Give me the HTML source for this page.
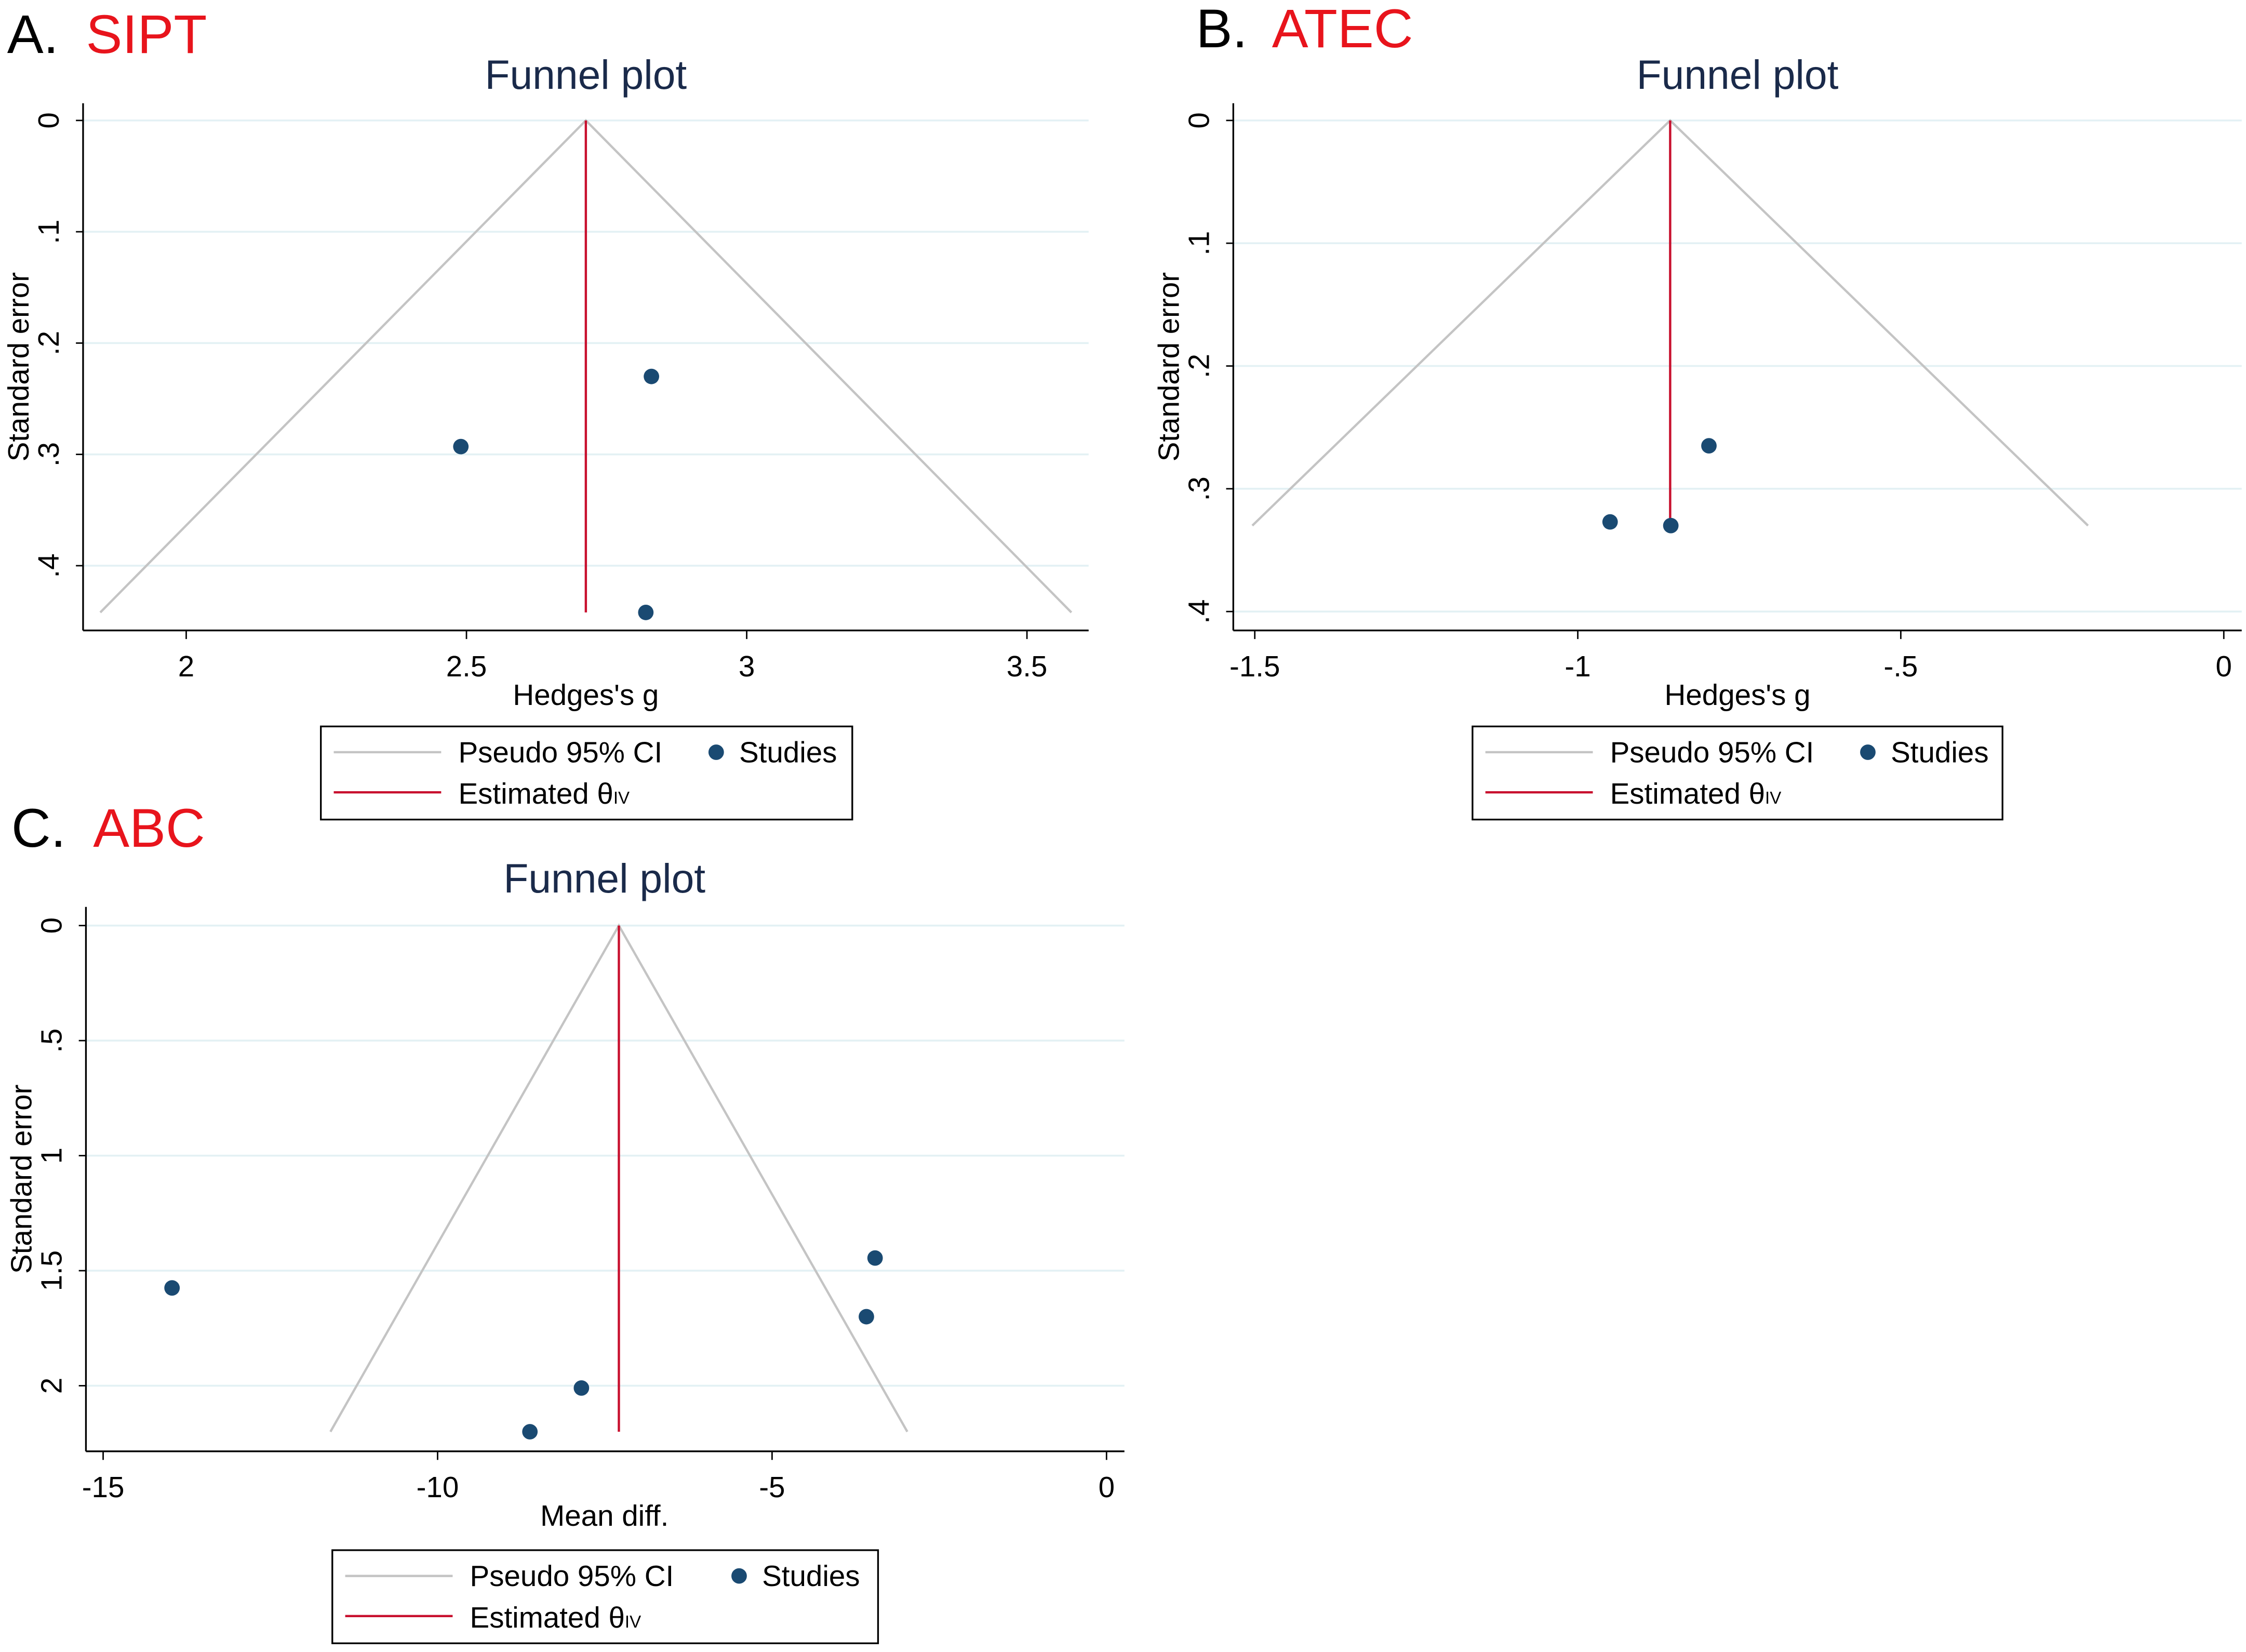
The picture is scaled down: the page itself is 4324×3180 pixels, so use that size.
<!DOCTYPE html>
<html><head><meta charset="utf-8"><style>
html,body{margin:0;padding:0;background:#fff;}
svg{display:block;}
text{font-family:"Liberation Sans",Arial,sans-serif;}
</style></head>
<body>
<svg id="fig" width="4324" height="3180" viewBox="0 0 1568 1153" xmlns="http://www.w3.org/2000/svg">
<rect x="0" y="0" width="1568" height="1153" fill="#fff"/>
</svg>
<script>
// Panel A (SIPT)
const aXTicks = [2, 2.5, 3, 3.5];
const aXTickLabels = ["2", "2.5", "3", "3.5"];
const aYTicks = [0, 0.1, 0.2, 0.3, 0.4];
const aYTickLabels = ["0", ".1", ".2", ".3", ".4"];
const aEffects = [2.83, 2.49, 2.82];
const aSE = [0.230, 0.293, 0.442];
const aTheta = 2.713;
const aMaxSE = 0.442;
// Panel B (ATEC)
const bXTicks = [-1.5, -1, -0.5, 0];
const bXTickLabels = ["-1.5", "-1", "-.5", "0"];
const bYTicks = [0, 0.1, 0.2, 0.3, 0.4];
const bYTickLabels = ["0", ".1", ".2", ".3", ".4"];
const bEffects = [-0.797, -0.950, -0.856];
const bSE = [0.265, 0.327, 0.330];
const bTheta = -0.857;
const bMaxSE = 0.330;
// Panel C (ABC)
const cXTicks = [-15, -10, -5, 0];
const cXTickLabels = ["-15", "-10", "-5", "0"];
const cYTicks = [0, 0.5, 1, 1.5, 2];
const cYTickLabels = ["0", ".5", "1", "1.5", "2"];
const cEffects = [-13.97, -3.46, -3.59, -7.85, -8.62];
const cSE = [1.575, 1.445, 1.70, 2.01, 2.20];
const cTheta = -7.29;
const cMaxSE = 2.20;

const NS = "http://www.w3.org/2000/svg";
const svg = document.getElementById('fig');
function mk(tag, attrs, parent, txt){
  const e = document.createElementNS(NS, tag);
  for (const k in attrs) e.setAttribute(k, attrs[k]);
  if (txt !== undefined) e.textContent = txt;
  (parent || svg).appendChild(e);
  return e;
}

function panel(cfg){
  const g = mk('g', {});
  
  
  const sx = v => cfg.x0px + (v - cfg.x0v) * cfg.xs;
  const sy = v => cfg.y0px + v * cfg.ys;
  const l1 = mk('text', {x: cfg.labX, y: cfg.labY, 'font-size': 38, fill: '#000'}, g, cfg.letter);
  
  
  const l2 = mk('text', {x: cfg.labX2, y: cfg.labY, 'font-size': 38, fill: '#e8141c'}, g, cfg.name);
  
  
  const t = mk('text', {x: cfg.titleX, y: cfg.titleY, 'font-size': 28.5, fill: '#1a2a4a', 'text-anchor': 'middle'}, g, 'Funnel plot');
  
  
  cfg.yTicks.forEach((v, i) => {
    const y = sy(v);
    const gl = mk('line', {x1: cfg.axL, x2: cfg.axR, y1: y, y2: y, stroke: '#e3f1f4', 'stroke-width': 1.3}, g);
    
    
    mk('line', {x1: cfg.axL - 5, x2: cfg.axL, y1: y, y2: y, stroke: '#000', 'stroke-width': 1}, g);
    const tl = mk('text', {x: 0, y: 0, 'font-size': 20.5, fill: '#000', 'text-anchor': 'middle',
      transform: `translate(${cfg.axL - 17},${y}) rotate(-90)`}, g, cfg.yLabels[i]);
    
    
  });
  cfg.xTicks.forEach((v, i) => {
    const x = sx(v);
    mk('line', {x1: x, x2: x, y1: cfg.axB, y2: cfg.axB + 6, stroke: '#000', 'stroke-width': 1}, g);
    const tl = mk('text', {x: x, y: cfg.axB + 32, 'font-size': 20.5, fill: '#000', 'text-anchor': 'middle'}, g, cfg.xLabels[i]);
    
    
  });
  const ya = mk('line', {x1: cfg.axL, x2: cfg.axL, y1: cfg.axT, y2: cfg.axB, stroke: '#000', 'stroke-width': 1.2}, g);
  
  
  const xa = mk('line', {x1: cfg.axL, x2: cfg.axR, y1: cfg.axB, y2: cfg.axB, stroke: '#000', 'stroke-width': 1.2}, g);
  
  
  const xt = mk('text', {x: cfg.titleX, y: cfg.axB + 52, 'font-size': 20.5, fill: '#000', 'text-anchor': 'middle'}, g, cfg.xTitle);
  
  
  const yt = mk('text', {x: 0, y: 0, 'font-size': 20.5, fill: '#000', 'text-anchor': 'middle',
    transform: `translate(${cfg.axL - 38},${cfg.yTitleY}) rotate(-90)`}, g, 'Standard error');
  
  
  const lo = cfg.theta - 1.96 * cfg.maxSE, hi = cfg.theta + 1.96 * cfg.maxSE;
  const f = mk('polyline', {points: `${sx(lo)},${sy(cfg.maxSE)} ${sx(cfg.theta)},${sy(0)} ${sx(hi)},${sy(cfg.maxSE)}`,
    fill: 'none', stroke: '#c4c4c4', 'stroke-width': 1.6}, g);
  
  
  const r = mk('line', {x1: sx(cfg.theta), x2: sx(cfg.theta), y1: sy(0), y2: sy(cfg.maxSE), stroke: '#c8102e', 'stroke-width': 1.6}, g);
  
  
  cfg.eff.forEach((v, i) => {
    const c = mk('circle', {cx: sx(v), cy: sy(cfg.se[i]), r: 5.4, fill: '#1a4a72'}, g);
    
    
  });
  const L = cfg.leg;
  const lg = mk('g', {}, g);
  
  
  mk('rect', {x: L.x, y: L.y, width: L.w, height: 65, fill: '#fff', stroke: '#000', 'stroke-width': 1.2}, lg);
  mk('line', {x1: L.x + 9, x2: L.x + 84, y1: L.y + 18, y2: L.y + 18, stroke: '#c4c4c4', 'stroke-width': 1.6}, lg);
  mk('text', {x: L.x + 96, y: L.y + 25, 'font-size': 20.5, fill: '#000'}, lg, 'Pseudo 95% CI');
  mk('circle', {cx: L.x + L.dot, cy: L.y + 18, r: 5.4, fill: '#1a4a72'}, lg);
  mk('text', {x: L.x + L.dot + 16, y: L.y + 25, 'font-size': 20.5, fill: '#000'}, lg, 'Studies');
  mk('line', {x1: L.x + 9, x2: L.x + 84, y1: L.y + 46, y2: L.y + 46, stroke: '#c8102e', 'stroke-width': 1.6}, lg);
  const et = mk('text', {x: L.x + 96, y: L.y + 54, 'font-size': 20.5, fill: '#000'}, lg, 'Estimated θ');
  mk('tspan', {'font-size': 12}, et, 'IV');
}

panel({id: 'sipt', letter: 'A.', name: 'SIPT', labX: 5, labX2: 60, labY: 37, titleX: 409, titleY: 62,
  x0v: 2, x0px: 130, xs: 391.3, y0px: 84, ys: 777,
  axL: 58, axR: 760, axT: 72, axB: 440, yTitleY: 256,
  xTicks: aXTicks, xLabels: aXTickLabels, yTicks: aYTicks, yLabels: aYTickLabels,
  eff: aEffects, se: aSE, theta: aTheta, maxSE: aMaxSE, xTitle: "Hedges's g",
  leg: {x: 224, y: 507, w: 371, dot: 276}});
panel({id: 'atec', letter: 'B.', name: 'ATEC', labX: 835, labX2: 888, labY: 33, titleX: 1213, titleY: 62,
  x0v: -1.5, x0px: 876, xs: 451, y0px: 84, ys: 857,
  axL: 861, axR: 1565, axT: 72, axB: 440, yTitleY: 256,
  xTicks: bXTicks, xLabels: bXTickLabels, yTicks: bYTicks, yLabels: bYTickLabels,
  eff: bEffects, se: bSE, theta: bTheta, maxSE: bMaxSE, xTitle: "Hedges's g",
  leg: {x: 1028, y: 507, w: 370, dot: 276}});
panel({id: 'abc', letter: 'C.', name: 'ABC', labX: 8, labX2: 65, labY: 591, titleX: 422, titleY: 623,
  x0v: -15, x0px: 72, xs: 46.7, y0px: 646, ys: 160.6,
  axL: 60, axR: 785, axT: 633, axB: 1013, yTitleY: 823,
  xTicks: cXTicks, xLabels: cXTickLabels, yTicks: cYTicks, yLabels: cYTickLabels,
  eff: cEffects, se: cSE, theta: cTheta, maxSE: cMaxSE, xTitle: "Mean diff.",
  leg: {x: 232, y: 1082, w: 381, dot: 284}});
</script>
</body></html>
